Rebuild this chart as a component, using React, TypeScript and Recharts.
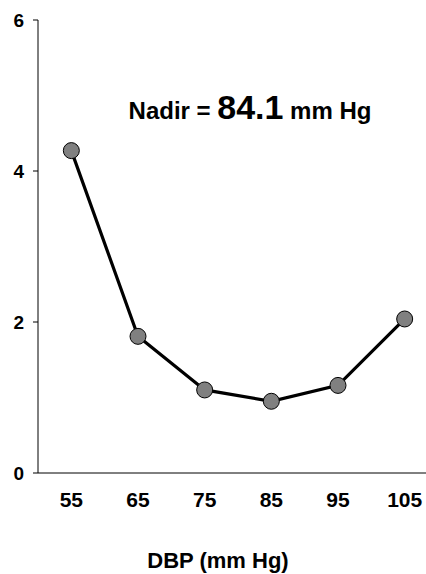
import { LineChart, Line, XAxis, YAxis } from "recharts";

// diastolic BP categories (mm Hg) and the plotted values
const dbpLevels = [55, 65, 75, 85, 95, 105];
const riskValues = [4.27, 1.81, 1.1, 0.95, 1.16, 2.04];
const yTicks = [0, 2, 4, 6];
const bandEdges = [60, 70, 80, 90, 100];
const nadirValue = "84.1";

const data = dbpLevels.map((dbp, i) => ({ dbp, value: riskValues[i] }));

const FONT = "'Liberation Sans', Arial, sans-serif";

export default function App() {
  return (
    <div
      style={{
        position: "absolute",
        left: 0,
        top: 0,
        width: 426,
        height: 574,
        overflow: "hidden",
        background: "#fff",
        fontFamily: FONT,
      }}
    >
      <LineChart
        width={440}
        height={574}
        data={data}
        margin={{ top: 20, right: 2, left: 0, bottom: 60 }}
      >
        {/* tick marks sit between the categories, so they get their own axis */}
        <XAxis
          xAxisId="a_tk"
          dataKey="dbp"
          type="number"
          domain={[50, 110]}
          ticks={bandEdges}
          allowDataOverflow
          height={1}
          tick={false}
          tickSize={4}
          axisLine={{ stroke: "#000", strokeWidth: 1 }}
          tickLine={{ stroke: "#000" }}
        />
        <XAxis
          xAxisId="b_lbl"
          dataKey="dbp"
          type="number"
          domain={[50, 110]}
          ticks={dbpLevels}
          allowDataOverflow
          height={40}
          axisLine={false}
          tickLine={false}
          tickSize={4}
          tickMargin={14}
          fontSize={21}
          fontWeight={700}
          tick={{ fill: "#000", fontSize: 21, fontWeight: 700, fontFamily: FONT }}
        />
        <YAxis
          domain={[0, 6]}
          ticks={yTicks}
          width={38}
          tickSize={5}
          tickMargin={9}
          fontSize={19}
          fontWeight={700}
          axisLine={{ stroke: "#000", strokeWidth: 1 }}
          tickLine={{ stroke: "#000" }}
          tick={{ fill: "#000", fontSize: 19, fontWeight: 700, fontFamily: FONT }}
        />
        <Line
          xAxisId="b_lbl"
          dataKey="value"
          stroke="#000"
          strokeWidth={3.2}
          dot={{ r: 8, fill: "#808080", stroke: "#000", strokeWidth: 1 }}
          isAnimationActive={false}
        />
      </LineChart>
      <svg
        width={426}
        height={574}
        style={{ position: "absolute", left: 0, top: 0, pointerEvents: "none" }}
      >
        <text
          x={250}
          y={119}
          textAnchor="middle"
          fontFamily={FONT}
          fontWeight={700}
          fill="#000"
        >
          <tspan fontSize={24}>Nadir = </tspan>
          <tspan fontSize={34}>{nadirValue}</tspan>
          <tspan fontSize={24}>{"  mm Hg"}</tspan>
        </text>
        <text
          x={218}
          y={568}
          textAnchor="middle"
          fontFamily={FONT}
          fontWeight={700}
          fontSize={22}
          fill="#000"
        >
          DBP (mm Hg)
        </text>
      </svg>
    </div>
  );
}
